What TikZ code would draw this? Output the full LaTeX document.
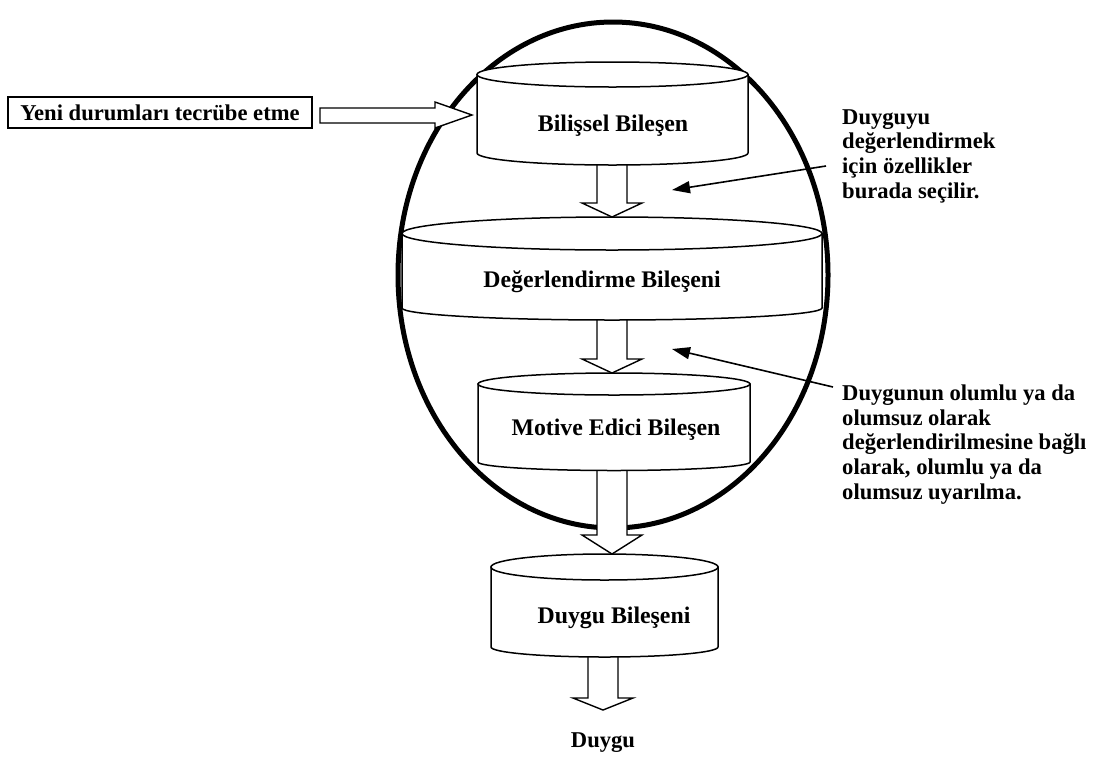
\documentclass[tikz,border=0pt]{standalone}
\usepackage{fontspec}
\setmainfont{Liberation Serif}
\usetikzlibrary{arrows.meta}
\newcommand\mycyl[6]{%
  \pgfmathsetmacro\cylrx{(#2-#1)/2}%
  \pgfmathsetmacro\cylxc{(#2+#1)/2}%
  \filldraw[cyl] (#1,#3) -- (#1,#5) arc[start angle=180,end angle=360,x radius=\cylrx pt,y radius=#6pt] -- (#2,#3) -- cycle;
  \filldraw[cyl] (\cylxc,#3) ellipse[x radius=\cylrx pt,y radius=#4pt];
}
\tikzset{
  cyl/.style={fill=white,draw=black,line width=1.5pt},
  hollow/.style={fill=white,draw=black,line width=1.4pt,line join=miter},
  pointer/.style={draw=black,line width=1.6pt,-{Triangle[length=18pt,width=12pt]}},
  lbl/.style={font=\fontsize{22.6}{24.8}\selectfont\bfseries,inner sep=0pt},
  clbl/.style={font=\fontsize{23.8}{26}\selectfont\bfseries,inner sep=0pt},
}
\begin{document}
\begin{tikzpicture}[x=1pt,y=-1pt]
\useasboundingbox (0,0) rectangle (1105,756);
% big ellipse
\draw[line width=5pt] (613,275) ellipse[x radius=215pt,y radius=253pt];
% hollow arrows
\filldraw[hollow] (320,108) -- (435,108) -- (435,102) -- (472,115) -- (435,128) -- (435,123) -- (320,123) -- cycle;
\filldraw[hollow] (597,158) -- (597,203) -- (582,203) -- (612,217) -- (642,203) -- (627,203) -- (627,158);
\filldraw[hollow] (597,315) -- (597,359) -- (582,359) -- (612,373) -- (642,359) -- (627,359) -- (627,315);
\filldraw[hollow] (597,465) -- (597,535) -- (582,535) -- (612,554) -- (642,535) -- (627,535) -- (627,465);
\filldraw[hollow] (588,652) -- (588,698) -- (573,698) -- (603,710) -- (633,698) -- (618,698) -- (618,652);
% cylinders
\mycyl{477}{748}{74.5}{12.5}{153}{12}
\mycyl{402}{822}{233.5}{16.5}{308}{12}
\mycyl{478}{750}{384}{11}{462}{8.5}
\mycyl{491}{718}{567}{13}{647}{10}
% cylinder labels
\node[clbl] (bil) at (613,126) {Bilişsel Bileşen};
\node[clbl] (deg) at (602,282) {Değerlendirme Bileşeni};
\node[clbl] (mot) at (616,430) {Motive Edici Bileşen};
\node[clbl] (duyb) at (614,618) {Duygu Bileşeni};
\node[lbl] (duygu) at (603,743) {Duygu};
% left box
\node[lbl,draw,line width=1.3pt,minimum width=304pt,minimum height=31pt] (yeni) at (160,112.5) {Yeni durumları tecrübe etme};
% right texts
\node[lbl,anchor=north west,align=left] (t1) at (842,109) {Duyguyu\\değerlendirmek\\için özellikler\\burada seçilir.};
\node[lbl,anchor=north west,align=left] (t2) at (842,384.5) {Duygunun olumlu ya da\\olumsuz olarak\\değerlendirilmesine bağlı\\olarak, olumlu ya da\\olumsuz uyarılma.};
% pointers
\coordinate (s1) at (826,166);
\coordinate (p1) at (672,190);
\coordinate (s2) at (833,387);
\coordinate (p2) at (672,349);
\draw[pointer] (s1) -- (p1);
\draw[pointer] (s2) -- (p2);
\end{tikzpicture}
\end{document}
